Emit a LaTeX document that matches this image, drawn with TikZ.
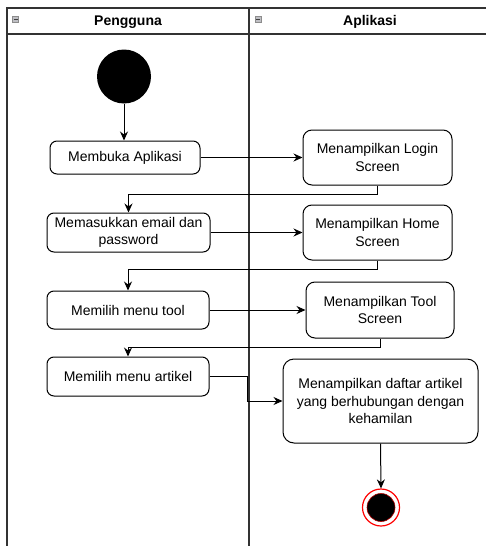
\documentclass[tikz,border=0pt]{standalone}
\usepackage{fontspec}
\setmainfont{Liberation Sans}
\usetikzlibrary{arrows.meta}
\begin{document}
\begin{tikzpicture}[x=1pt,y=-1pt,
  every node/.style={font=\fontsize{14}{17.5}\selectfont, inner sep=0pt},
  act/.style={draw, line width=1pt, rounded corners=7pt, fill=white, align=center},
  lane/.style={draw=black!80, line width=1.2pt},
  arr/.style={draw, line width=1pt, -{Stealth[length=9pt,width=8pt]}},
  icon/.style={draw=black!45, fill=blue!8!black!25, line width=0.6pt, minimum size=6pt}
]
\useasboundingbox (0,0) rectangle (486,546);
% swimlanes
\draw[lane] (486,8) -- (7,8) -- (7,546);
\draw[lane] (7,34) -- (486,34);
\draw[lane] (249,8) -- (249,546);
\node[font=\fontsize{14}{17}\selectfont\bfseries] (h1) at (128,22) {Pengguna};
\node[font=\fontsize{14}{17}\selectfont\bfseries] (h2) at (370,22) {Aplikasi};
\node[icon] (i1) at (15.5,19.5) {};
\draw[line width=1pt, black!75] (13.5,19.5) -- (17.5,19.5);
\node[icon] (i2) at (258,19.5) {};
\draw[line width=1pt, black!75] (256,19.5) -- (260,19.5);
% start
\node[circle, fill=black, minimum size=54pt] (start) at (124,76.5) {};
% actions
\node[act, minimum width=150pt, minimum height=33pt] (b1) at (125,157.5) {Membuka Aplikasi};
\node[act, rounded corners=9pt, minimum width=149pt, minimum height=55pt] (login) at (377.5,157.5) {Menampilkan Login\\Screen};
\node[act, minimum width=163pt, minimum height=39pt] (b2) at (128.5,232.5) {Memasukkan email dan\\password};
\node[act, rounded corners=9pt, minimum width=149pt, minimum height=55pt] (home) at (377.5,232.5) {Menampilkan Home\\Screen};
\node[act, minimum width=162pt, minimum height=38pt] (b3) at (128,310) {Memilih menu tool};
\node[act, rounded corners=9pt, minimum width=148pt, minimum height=56pt] (tool) at (380,310) {Menampilkan Tool\\Screen};
\node[act, minimum width=162pt, minimum height=39pt] (b4) at (128,376.5) {Memilih menu artikel};
\node[act, rounded corners=11pt, minimum width=195pt, minimum height=84pt] (daftar) at (380.5,401) {Menampilkan daftar artikel\\yang berhubungan dengan\\kehamilan};
% end
\node[circle, draw=red, line width=1.2pt, fill=white, minimum size=37pt] (end) at (381,507.5) {};
\node[circle, draw=red!70!black, line width=0.6pt, fill=black, minimum size=28pt] (endin) at (381,507.5) {};
% connectors
\draw[arr] (start.south) -- (start.south |- b1.north);
\draw[arr] (b1.east) -- (login.west);
\draw[arr] (login.south) -- ++(0,8.5) -| (b2.north);
\draw[arr] (b2.east) -- (home.west);
\draw[arr] (home.south) -- ++(0,8.5) -| (b3.north);
\draw[arr] (b3.east) -- (tool.west);
\draw[arr] (tool.south) -- ++(0,9) -| (b4.north);
\draw[arr] (b4.east) -- ++(38,0) |- (daftar.west);
\draw[arr] (daftar.south) -- (end.north);
\end{tikzpicture}
\end{document}
